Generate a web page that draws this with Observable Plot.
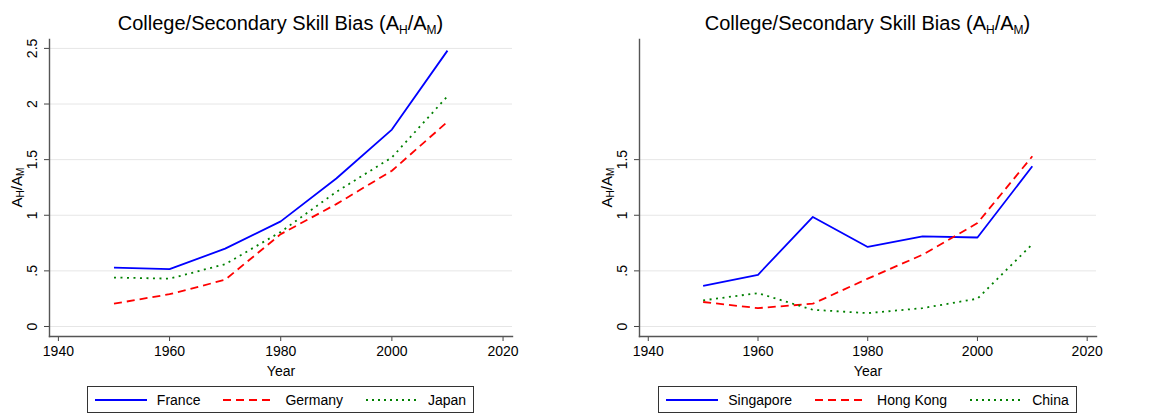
<!DOCTYPE html>
<html><head><meta charset="utf-8">
<script src="https://cdn.jsdelivr.net/npm/d3@7"></script>
<script src="https://cdn.jsdelivr.net/npm/@observablehq/plot@0.6"></script>
<style>
body{margin:0;background:#fff;font-family:"Liberation Sans",Arial,Helvetica,sans-serif;color:#000;}
#wrap{position:relative;width:1149px;height:417px;overflow:hidden;}
.panel{position:absolute;top:0;height:417px;}
.panel svg.plot{position:absolute;top:0;left:0;}
.title{position:absolute;top:13px;font-size:20px;line-height:20px;text-align:center;white-space:nowrap;}
.title .s{font-size:0.6em;vertical-align:-0.3em;}
.legend{position:absolute;top:386px;height:27px;border:1px solid #333;display:flex;align-items:center;font-size:14px;box-sizing:border-box;padding:0 7px;white-space:nowrap;}
.legend .item{display:flex;align-items:center;}
.legend .item svg{margin-right:10px;}
.legend .item + .item{margin-left:23px;}
</style>
</head><body>
<div id="wrap"></div>
<script>
const years = [1950, 1960, 1970, 1980, 1990, 2000, 2010];
const france    = [0.53, 0.515, 0.70, 0.945, 1.33, 1.77, 2.48];
const germany   = [0.205, 0.29, 0.42, 0.83, 1.10, 1.40, 1.84];
const japan     = [0.44, 0.43, 0.56, 0.85, 1.21, 1.52, 2.07];
const singapore = [0.365, 0.465, 0.985, 0.715, 0.81, 0.80, 1.44];
const hongKong  = [0.22, 0.165, 0.205, 0.43, 0.645, 0.93, 1.53];
const china     = [0.235, 0.30, 0.15, 0.12, 0.165, 0.25, 0.74];
const leftNames = ["France", "Germany", "Japan"];
const rightNames = ["Singapore", "Hong Kong", "China"];
const xTicks = [1940, 1960, 1980, 2000, 2020];
const yTicksLeft = [0, 0.5, 1, 1.5, 2, 2.5];
const yTicksRight = [0, 0.5, 1, 1.5];

const styles = [
  {stroke: "#0000ff", dash: null, legendDash: null},
  {stroke: "#ff0000", dash: "8,5", legendDash: "8,5"},
  {stroke: "#008000", dash: "2,4.5", legendDash: "2,4"}
];
const fmt = d => d === 0 ? "0" : String(d).replace(/^0\./, ".");

function rowsFor(names, series) {
  const out = [];
  names.forEach((n, i) => years.forEach((y, j) => out.push({series: n, year: y, value: series[i][j]})));
  return out;
}

function panel({left, width, mLeft, mRight, names, series, yTicks}) {
  const wrap = document.getElementById("wrap");
  const div = document.createElement("div");
  div.className = "panel";
  div.style.left = left + "px";
  div.style.width = width + "px";
  wrap.appendChild(div);

  const height = 382, mTop = 39, mBottom = 46;
  const rows = rowsFor(names, series);
  const marks = [
    Plot.gridY(yTicks, {stroke: "#e6e6e6", strokeOpacity: 1, strokeWidth: 1}),
    Plot.axisY(yTicks, {tickSize: 5, tickFormat: () => "", stroke: "#444", label: null}),
    Plot.text(yTicks, {y: d => d, frameAnchor: "left", dx: -17, rotate: -90, text: fmt, fontSize: 14, textAnchor: "middle", lineAnchor: "middle", fill: "#000"}),
    Plot.axisX(xTicks, {tickSize: 5, tickPadding: 5, tickFormat: d => String(d), fontSize: 14, stroke: "#444", fill: "#000",
      label: "Year", labelAnchor: "center", labelOffset: 39, labelArrow: "none"}),
    Plot.frame({anchor: "left", stroke: "#555", strokeWidth: 1.4}),
    Plot.frame({anchor: "bottom", stroke: "#555", strokeWidth: 1.4})
  ];
  names.forEach((n, i) => {
    marks.push(Plot.line(rows.filter(r => r.series === n), {
      x: "year", y: "value", stroke: styles[i].stroke, strokeWidth: 1.8,
      strokeDasharray: styles[i].dash || undefined, strokeLinecap: "butt"
    }));
  });
  const chart = Plot.plot({
    width, height,
    marginLeft: mLeft, marginRight: mRight, marginTop: mTop, marginBottom: mBottom,
    style: {fontFamily: '"Liberation Sans", Arial, sans-serif', fontSize: "14px", background: "transparent", color: "#000"},
    x: {domain: [1938.4, 2021.7], label: null},
    y: {domain: [-0.09, 2.58], label: null},
    marks
  });
  chart.classList.add("plot");
  div.appendChild(chart);

  // rotated y-axis title with subscripts
  const svg = d3.select(chart);
  const cy = (mTop + (height - mBottom)) / 2;
  const t = svg.append("text")
    .attr("transform", `translate(${mLeft - 31},${cy}) rotate(-90)`)
    .attr("text-anchor", "middle")
    .attr("dominant-baseline", "middle")
    .attr("font-size", 15)
    .attr("fill", "#000");
  t.append("tspan").text("A");
  t.append("tspan").attr("font-size", 10).attr("dy", 3).text("H");
  t.append("tspan").attr("dy", -3).text("/A");
  t.append("tspan").attr("font-size", 10).attr("dy", 3).text("M");

  const plotW = width - mLeft - mRight;
  const title = document.createElement("div");
  title.className = "title";
  title.style.left = mLeft + "px";
  title.style.width = plotW + "px";
  title.innerHTML = 'College/Secondary Skill Bias (A<span class="s">H</span>/A<span class="s">M</span>)';
  div.appendChild(title);

  const leg = document.createElement("div");
  leg.className = "legend";
  names.forEach((n, i) => {
    const it = document.createElement("div");
    it.className = "item";
    const dash = styles[i].legendDash ? `stroke-dasharray="${styles[i].legendDash}"` : "";
    it.innerHTML = `<svg width="52" height="10"><line x1="0" x2="52" y1="5" y2="5" stroke="${styles[i].stroke}" stroke-width="1.8" ${dash}/></svg><span>${n}</span>`;
    leg.appendChild(it);
  });
  div.appendChild(leg);
  const lw = leg.getBoundingClientRect().width;
  leg.style.left = (mLeft + plotW / 2 - lw / 2) + "px";
}

panel({left: 0, width: 574, mLeft: 49, mRight: 62, names: leftNames, series: [france, germany, japan], yTicks: yTicksLeft});
panel({left: 580, width: 569, mLeft: 59, mRight: 53, names: rightNames, series: [singapore, hongKong, china], yTicks: yTicksRight});
</script>
</body></html>
